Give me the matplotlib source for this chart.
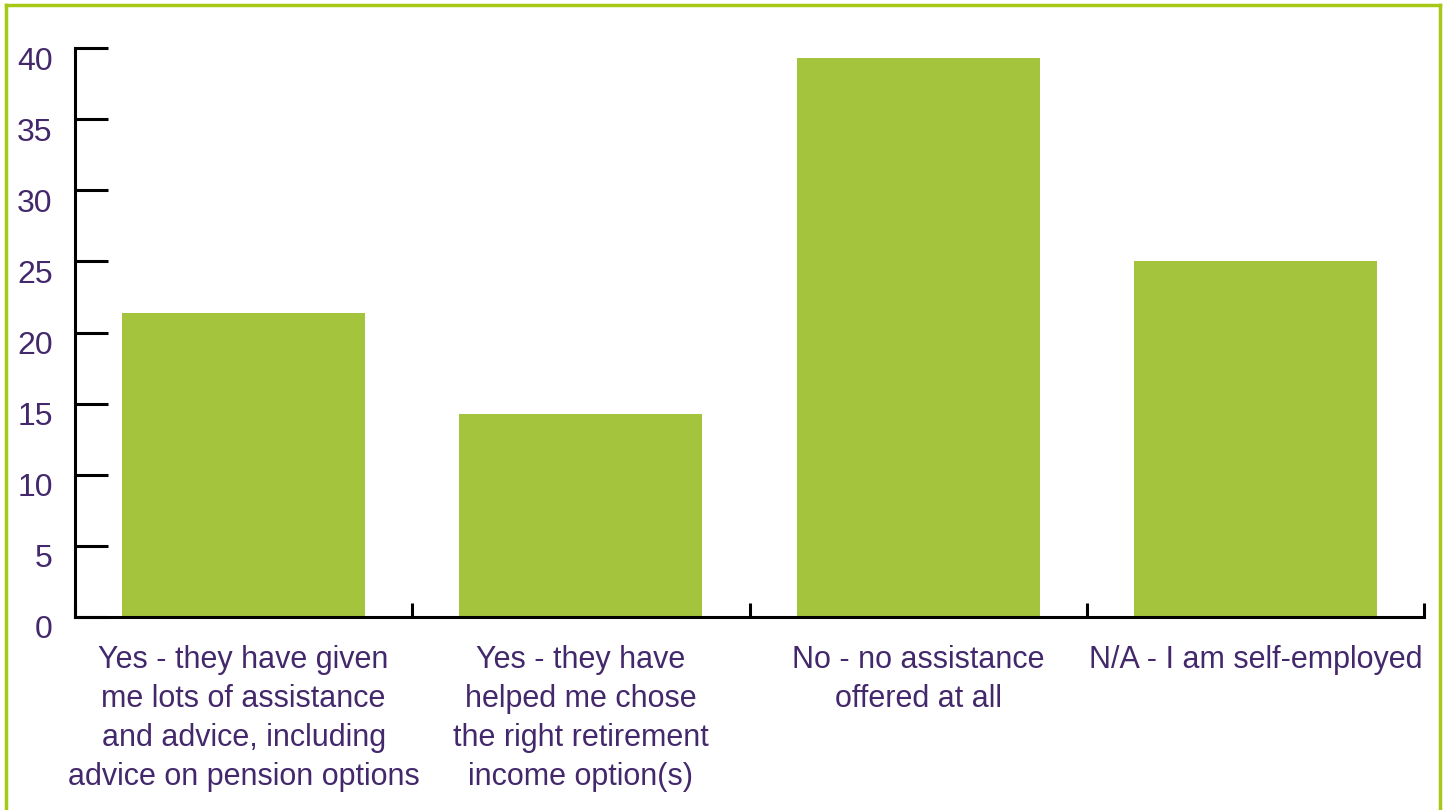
import matplotlib
matplotlib.use("Agg")
import matplotlib.pyplot as plt
from matplotlib.lines import Line2D
from matplotlib.transforms import offset_copy

BAR = "#a3c43c"
FRAME = "#a6c816"
TEXT = "#43296b"

plt.rcParams["font.family"] = ["Liberation Sans", "DejaVu Sans"]

categories = [
    "Yes - they have given\nme lots of assistance\nand advice, including\nadvice on pension options",
    "Yes - they have\nhelped me chose\nthe right retirement\nincome option(s)",
    "No - no assistance\noffered at all",
    "N/A - I am self-employed",
]
values = [21.4, 14.3, 39.3, 25.0]
yticks = [0, 5, 10, 15, 20, 25, 30, 35, 40]

W, H = 1443, 810
fig = plt.figure(figsize=(W / 100, H / 100), dpi=100)
ax = fig.add_axes([75 / W, (H - 617) / H, (1424 - 75) / W, (617 - 48) / H])

x = list(range(len(categories)))
ax.bar(x, values, width=0.72, color=BAR, zorder=1)
ax.set_xlim(-0.5, len(categories) - 0.5)
ax.set_ylim(0, 40)

for s in ("top", "right"):
    ax.spines[s].set_visible(False)
for s in ("left", "bottom"):
    ax.spines[s].set_linewidth(2.2)
    ax.spines[s].set_color("black")
    ax.spines[s].set_zorder(3)

ax.set_yticks(yticks)
ax.set_yticklabels([str(t) for t in yticks])
ax.tick_params(axis="y", direction="in", length=24, width=2.2, pad=16,
               labelsize=23, labelcolor=TEXT)
# nudge the value labels down a little, as drawn
for lab in ax.get_yticklabels():
    lab.set_transform(offset_copy(lab.get_transform(), fig=fig, x=0, y=-10, units="dots"))

# category labels centred under each bar, boundary ticks between them
ax.set_xticks(x)
ax.set_xticklabels(categories)
ax.tick_params(axis="x", length=0, pad=20, labelsize=22, labelcolor=TEXT)
for lab in ax.get_xticklabels():
    lab.set_linespacing(1.4)
    lab.set_verticalalignment("top")
ax.set_xticks([i - 0.5 for i in range(len(categories) + 1)], minor=True)
ax.tick_params(axis="x", which="minor", direction="in", length=10, width=2.2)

# green frame around the chart (left, top, right)
for xs, ys in (([6, 6], [0, 805]), ([6, 1440], [805, 805]), ([1440, 1440], [805, 0])):
    fig.add_artist(Line2D([v / W for v in xs], [v / H for v in ys],
                          transform=fig.transFigure, color=FRAME, lw=2.5))

fig.savefig("out.png", dpi=100)
